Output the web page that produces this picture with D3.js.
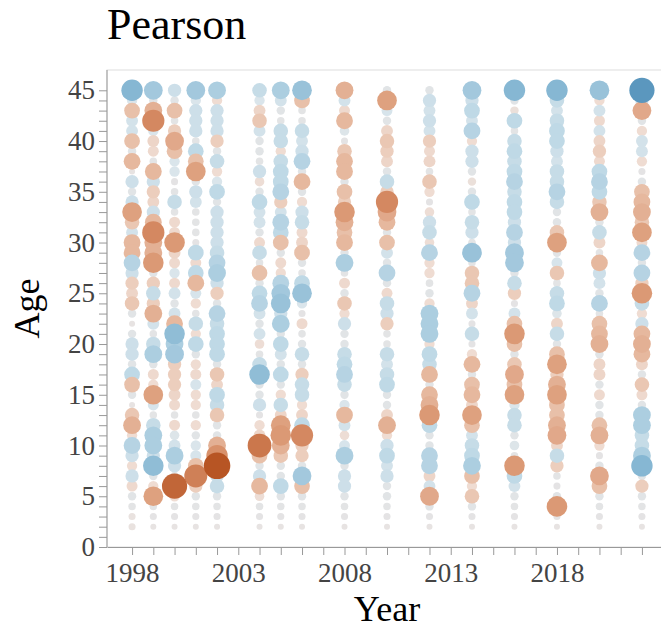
<!DOCTYPE html>
<html><head><meta charset="utf-8">
<script src="https://cdn.jsdelivr.net/npm/d3@7"></script>
<style>
body{margin:0;background:#fff}
text{font-family:"Liberation Serif","Times New Roman",serif}
</style>
</head><body>
<svg id="c" width="661" height="634"></svg>
<script>
// ---------- data ----------
const years = [1998,1999,2000,2001,2002,2004,2005,2006,2008,2010,2012,2014,2016,2018,2020,2022];
const ages = [45,44,43,42,41,40,39,38,37,36,35,34,33,32,31,30,29,28,27,26,25,24,23,22,21,20,19,18,17,16,15,14,13,12,11,10,9,8,7,6,5,4,3,2];
const xTickLabels = [1998,2003,2008,2013,2018];
const yTickLabels = [0,5,10,15,20,25,30,35,40,45];

// Pearson coefficients per year, listed for ages 45 down to 2
const r1998 = [0.6,0.1,-0.3,0.15,0.15,-0.3,0.05,-0.35,0,0.2, 0.05,0.2,-0.5,-0.25,0.15,-0.35,-0.35,0.35,0.2,-0.2, -0.15,-0.25,0.05,0,0.05,0.2,0.2,0.05,0.3,-0.3, 0.05,0,-0.25,-0.4,-0.1,0.35,0.2,-0.1,0.2,-0.12, 0.05,0.03,-0.02,-0.02];
const r1999 = [0.45,0.05,-0.4,-0.65,0.1,-0.15,-0.12,0.03,-0.35,0.2, -0.2,-0.15,0.2,-0.35,-0.65,-0.4,-0.4,-0.55,0.05,-0.2, 0.25,-0.2,-0.4,0.15,0.03,0.25,0.4,0.05,-0.12,-0.1, -0.5,0.12,0.03,0.25,0.4,0.4,0.2,0.55,0.05,-0.1, -0.5,0.03,0.02,0];
const r2000 = [0.2,0.05,-0.3,0.03,-0.2,-0.45,-0.3,0.1,0.1,0.02, 0.03,0.25,0.03,-0.12,-0.12,-0.55,-0.15,-0.12,0.1,-0.12, 0.15,0.05,0.15,-0.35,0.55,0.4,0.45,-0.2,-0.2,-0.2, -0.15,-0.12,0.03,-0.12,0.08,0.15,0.4,0.2,0.05,-0.85, -0.1,0.03,0.02,0];
const r2001 = [0.45,0.1,0.2,0.2,0.2,0.03,0.3,-0.3,-0.5,0.05, 0.2,0.15,0.03,0.03,0.03,0.02,0.3,-0.12,0.3,-0.35, 0.12,-0.1,0.03,0.25,-0.1,0.3,0.05,-0.1,-0.12,0.12, -0.1,-0.1,0.03,-0.1,0.05,0.1,0.12,-0.3,-0.7,-0.2, 0.05,0.03,0.02,0];
const r2002 = [0.4,-0.1,0.2,0.2,0.2,-0.2,0.05,0.25,-0.1,0.1, 0.3,0.05,0.2,0.2,0.2,0.2,0.25,0.35,0.4,0.2, -0.2,0.05,0.35,0.25,0.3,0.3,0.3,0.05,-0.25,-0.15, 0.3,0.25,-0.25,0.05,0.05,-0.4,-0.6,-0.95,0.2,0.25, 0.05,0.03,0.02,0];
const r2004 = [0.25,0.1,-0.15,-0.25,0.15,0.05,0.05,0.03,0.2,-0.08, 0.05,0.3,0.15,0.15,0.05,-0.12,0.25,0.03,-0.3,0.05, 0.3,0.35,0.15,0.05,0.15,-0.08,0.03,0.25,0.55,0.05, 0.05,0.2,0.02,-0.1,-0.15,-0.75,-0.3,0.05,0.2,-0.35, -0.08,0.03,0.02,0];
const r2005 = [0.4,0.15,0.05,0.03,0.25,0.25,-0.1,0.25,0.3,0.3, 0.35,-0.2,0.15,0.35,0.3,-0.3,0.05,-0.12,-0.1,0.35, 0.45,0.5,0.2,0.4,0.05,0.3,0.15,0.05,0.3,0.05, -0.1,0.25,-0.15,-0.5,-0.55,-0.4,-0.25,0.05,0.05,0.3, 0.05,0.03,0.02,0];
const r2006 = [0.5,-0.3,0.03,0.03,0.25,0.15,0.2,0.35,0.05,-0.35, 0.05,-0.1,0.2,0.25,-0.12,-0.15,-0.3,0.05,0.03,0.3, 0.5,0.1,0.02,-0.12,0.03,0.05,0.25,0.05,-0.2,0.25, 0.25,-0.1,-0.15,0.3,-0.65,-0.2,-0.2,0.05,0.45,-0.3, 0.05,0.03,0.02,0];
const r2008 = [-0.4,0.15,-0.12,-0.35,0.08,0.02,-0.25,-0.35,-0.35,0.05, -0.3,-0.2,-0.55,-0.4,-0.3,-0.35,0.05,0.4,0.03,-0.12, 0.05,-0.25,-0.1,0.2,0.05,0.05,0.25,0.3,0.35,0.25, 0.05,0.1,-0.35,0.15,-0.08,0.12,0.4,0.05,0.2,0.2, 0.05,0.03,0.02,0];
const r2010 = [0.05,-0.5,0.12,0.05,-0.15,-0.25,-0.2,-0.15,0.05,0.25, -0.2,-0.65,-0.45,-0.35,0.05,-0.3,0.15,0.05,0.35,0.05, -0.12,0.25,0.2,-0.2,0.03,0.03,0.25,0.15,0.25,0.3, 0.05,0.05,-0.15,-0.4,-0.1,0.2,0.3,0.15,0.2,0.05, 0.05,0.03,0.02,0];
const r2012 = [0.05,0.2,0.15,0.2,0.15,-0.2,-0.12,-0.15,0.03,-0.25, -0.1,0.02,-0.08,0.2,0.25,-0.08,0.35,-0.1,-0.1,0.03, 0.05,-0.1,0.4,0.4,0.4,-0.1,0.3,0.25,-0.35,0.05, -0.35,-0.4,-0.55,0.3,0.05,0.05,0.35,0.35,-0.15,0.15, -0.45,0.05,0.02,0];
const r2014 = [0.45,0.2,0.3,0.15,0.35,-0.1,0.2,0.2,0.05,-0.05, 0.05,0.3,0.03,0.25,0.2,0.03,0.5,0.03,-0.25,-0.25, 0.35,-0.15,0.15,0.02,0.25,0.02,-0.1,-0.35,0.05,-0.3, -0.35,-0.15,-0.5,-0.3,0.15,0.25,0.3,0.4,-0.3,-0.1, -0.25,0.05,0.02,0];
const r2016 = [0.6,0.05,-0.05,0.3,0.03,0.25,0.3,0.25,0.3,0.35, 0.25,0.3,0.3,0.2,0.35,0.2,0.45,0.45,0.05,0.25, -0.2,0.02,0.15,-0.3,-0.55,-0.3,0.05,-0.25,-0.45,-0.3, -0.5,0.1,0.25,0.25,0.05,0.08,0.03,-0.55,0.3,0.15, 0.05,0.03,0.02,0];
const r2018 = [0.6,0.25,0.15,0.25,0.3,0.3,0.2,0.15,0.25,0.25, 0.35,0.25,0.05,0.05,-0.25,-0.5,0.05,0.12,-0.25,0.03, 0.25,0.3,0.08,-0.15,0.25,0.05,-0.3,-0.5,-0.2,-0.4, -0.5,-0.3,-0.3,-0.4,-0.45,-0.15,0.25,-0.2,0.03,0.02, 0.05,-0.55,0.02,0];
const r2020 = [0.5,-0.1,0.15,-0.12,0.15,-0.15,-0.2,-0.12,0.3,0.35, 0.3,-0.25,-0.4,0.05,0.25,-0.15,0.03,-0.35,0.2,0.15, 0.05,0.35,0.03,-0.3,-0.35,-0.4,0.05,-0.15,-0.15,0.05, -0.12,0.05,0.05,-0.3,-0.4,-0.1,0.02,0.05,-0.45,-0.3, 0.05,0.03,0.02,0];
const r2022 = [0.85,0.2,-0.45,0.05,-0.1,0.15,0.15,-0.1,0.02,0.05, -0.3,-0.35,-0.4,-0.25,-0.5,-0.12,0.35,0.05,0.35,-0.2, -0.55,0.25,-0.1,0.2,-0.35,-0.4,-0.35,-0.15,0.05,-0.25, -0.12,0.05,0.4,0.4,0.25,0.25,0.4,0.6,0.05,-0.2, 0.05,0.03,0.02,0];
const series = [r1998,r1999,r2000,r2001,r2002,r2004,r2005,r2006,r2008,r2010,r2012,r2014,r2016,r2018,r2020,r2022];

// ---------- chart ----------
const svg = d3.select("#c");
const L = 107, R = 667, T = 70, B = 547;
const x = d3.scaleLinear().domain([1996.82, 2023.18]).range([L, R]);
const y = d3.scaleLinear().domain([0, 47]).range([B, T]);
const color = d3.scaleLinear()
  .domain([-1,-0.6,-0.3,-0.1,0,0.1,0.3,0.6,1])
  .range(["#b24c19","#d8916b","#e8c0a9","#efdcd2","#e7e3e2","#dae5eb","#bfd9e6","#86b7d3","#3d85b1"])
  .interpolate(d3.interpolateLab).clamp(true);
const area = d3.scaleLinear().domain([0, 1]).range([9, 185]);
const rad = v => Math.sqrt(area(Math.abs(v)));

// frame
svg.append("rect").attr("x", L).attr("y", T).attr("width", R - L).attr("height", B - T)
  .attr("fill", "none").attr("stroke", "#dddddd").attr("stroke-width", 1);

// points
const pts = [];
years.forEach((yr, i) => ages.forEach((a, j) => pts.push({yr, a, v: series[i][j]})));
pts.sort((p, q) => Math.abs(p.v) - Math.abs(q.v));
svg.append("g").selectAll("circle").data(pts).join("circle")
  .attr("cx", d => x(d.yr)).attr("cy", d => y(d.a))
  .attr("r", d => rad(d.v)).attr("fill", d => color(d.v));

// axes
const allYears = d3.range(1998, 2023);
const xAxis = svg.append("g").attr("transform", `translate(0,${B})`)
  .call(d3.axisBottom(x).tickValues(allYears)
    .tickFormat(d => xTickLabels.includes(d) ? d : "")
    .tickSize(8).tickSizeOuter(0).tickPadding(8));
const yAxis = svg.append("g").attr("transform", `translate(${L},0)`)
  .call(d3.axisLeft(y).tickValues(d3.range(0, 46))
    .tickFormat(d => yTickLabels.includes(d) ? d : "")
    .tickSize(8).tickSizeOuter(0).tickPadding(4));
[xAxis, yAxis].forEach(g => {
  g.select(".domain").attr("stroke", "#999");
  g.selectAll(".tick line").attr("stroke", "#999");
  g.selectAll("text").attr("fill", "#444").style("font-size", "27px")
    .style("font-family", '"Liberation Serif","Times New Roman",serif');
});
yAxis.select(".domain").attr("d", `M0,${B}V${T}`);

// titles
svg.append("text").attr("x", L).attr("y", 39).attr("font-size", 44).attr("fill", "#000").text("Pearson");
svg.append("text").attr("x", (L + R) / 2).attr("y", 621).attr("text-anchor", "middle")
  .attr("font-size", 36).attr("fill", "#000").text("Year");
svg.append("text").attr("transform", `translate(39,${(T + B) / 2}) rotate(-90)`)
  .attr("text-anchor", "middle").attr("font-size", 36).attr("fill", "#000").text("Age");
</script>
</body></html>
